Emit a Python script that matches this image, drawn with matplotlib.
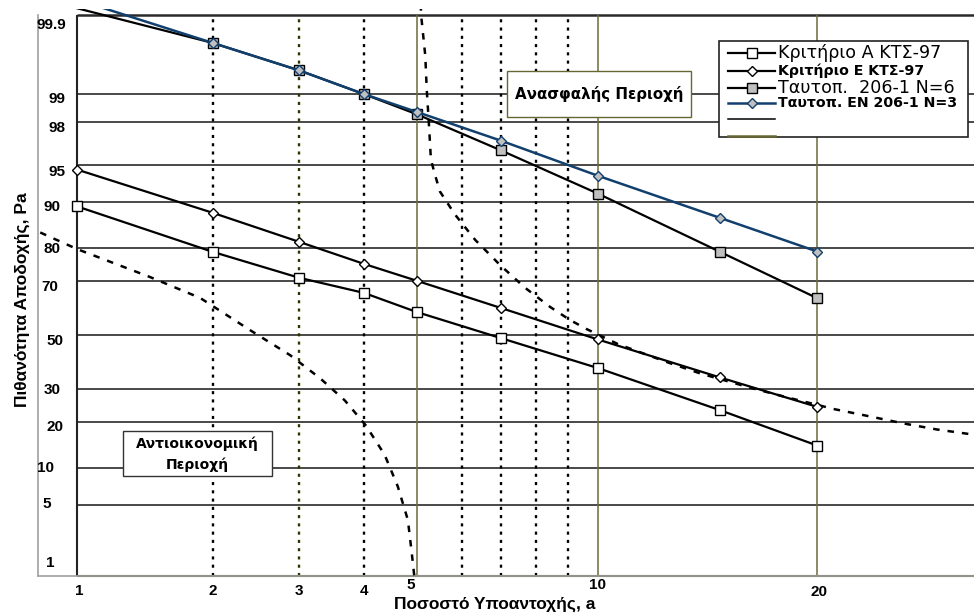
import math
import numpy as np
import matplotlib
matplotlib.use("Agg")
import matplotlib.pyplot as plt
from matplotlib.patches import Rectangle
from matplotlib.lines import Line2D
import matplotlib.transforms as mtransforms

# ---------------- data ----------------
x_pts = [1, 2, 3, 4, 5, 7, 10, 15, 20]
crit_A = [89.3, 78.9, 71.0, 65.8, 58.8, 48.8, 37.5, 23.4, 14.3]
crit_E = [94.5, 88.1, 81.6, 75.4, 70.0, 60.3, 48.3, 34.1, 24.4]
ident_N6 = [99.92, 99.76, 99.47, 99.0, 98.35, 96.27, 91.4, 78.9, 63.9]
ident_N3 = [99.94, 99.76, 99.47, 99.0, 98.44, 96.97, 93.8, 87.1, 79.0]

curve1_a = [0.82, 1.0, 1.13, 1.46, 1.88, 2.39, 2.88, 3.30, 3.68, 4.03, 4.37, 4.62, 4.82, 4.90, 4.95]
curve1_p = [83.9, 79.7, 77.2, 71.3, 64.0, 51.9, 42.3, 33.8, 26.4, 19.2, 12.4, 7.2, 3.7, 1.73, 1.0]

curve2_a = [5.08, 5.10, 5.18, 5.21, 5.26, 5.30, 5.39, 5.50, 5.84, 6.33, 6.97, 7.67, 8.42,
            9.05, 9.61, 10.73, 12.65, 14.07, 16.54, 18.33, 20.99, 23.09, 25.15, 27.37, 29.9]
curve2_p = [99.93, 99.886, 99.647, 99.12, 97.81, 95.5, 93.9, 91.7, 87.8, 82.1, 75.1, 67.6, 60.7,
            55.8, 52.3, 46.5, 39.7, 35.6, 30.4, 27.4, 23.7, 21.6, 19.7, 18.1, 16.8]

hgrid_vals = [5, 10, 20, 30, 50, 70, 80, 90, 95, 98, 99]
dotted_x = [2, 3, 4, 6, 7, 8, 9]
solid_x = [5, 10, 20]

ytick_labels = ["99.9", "99", "98", "95", "90", "80", "70", "50", "30", "20", "10", "5", "1"]
ytick_vals = [99.9, 99, 98, 95, 90, 80, 70, 50, 30, 20, 10, 5, 1]
xtick_labels = ["1", "2", "3", "4", "5", "10", "20"]
xtick_vals = [1, 2, 3, 4, 5, 10, 20]

legend_labels = ["Κριτήριο Α ΚΤΣ-97", "Κριτήριο Ε ΚΤΣ-97", "Ταυτοπ.  206-1 N=6", "Ταυτοπ. EN 206-1 N=3", "", ""]

x_title = "Ποσοστό Υποαντοχής, a"
y_title = "Πιθανότητα Αποδοχής, Pa"
box1_text = "Ανασφαλής Περιοχή"
box2_text = "Αντιοικονομική\nΠεριοχή"

# ---------------- layout / style ----------------
W, H = 974, 615
def fx(px):
    return px / W
def fy(py):
    return 1 - py / H

ylab_x = [51, 57, 57, 57, 52, 52, 50, 55, 52, 55, 46, 47, 50]
ylab_dy = [10, 5, 6, 7, 5, 1, 6, 6, 1, 5, 0, -1, -13]
xlab_dx = [2, 0, 0, 0, -6, 0, 2]
xlab_dy = [15, 15, 15, 15, 9, 9, 16]

BLUE = "#12406e"
OLIVE = "#6b6b3c"
GRAYFILL = "#c0c0c0"

# ---------------- probability scale functions ----------------
_a = [-3.969683028665376e+01, 2.209460984245205e+02, -2.759285104469687e+02,
      1.383577518672690e+02, -3.066479806614716e+01, 2.506628277459239e+00]
_b = [-5.447609879822406e+01, 1.615858368580409e+02, -1.556989798598866e+02,
      6.680131188771972e+01, -1.328068155288572e+01]
_c = [-7.784894002430293e-03, -3.223964580411365e-01, -2.400758277161838e+00,
      -2.549671348133744e+00, 4.374664141464968e+00, 2.938163982698783e+00]
_d = [7.784695709041462e-03, 3.224671290700398e-01, 2.445134137142996e+00,
      3.754408661907416e+00]

def probit_pct(v):
    p = np.clip(np.asarray(v, dtype=float) / 100.0, 1e-12, 1 - 1e-12)
    plow = 0.02425
    with np.errstate(all="ignore"):
        q = np.sqrt(-2 * np.log(p))
        lo = (((((_c[0]*q+_c[1])*q+_c[2])*q+_c[3])*q+_c[4])*q+_c[5]) / \
             ((((_d[0]*q+_d[1])*q+_d[2])*q+_d[3])*q+1)
        qh = np.sqrt(-2 * np.log(1 - p))
        hi = -(((((_c[0]*qh+_c[1])*qh+_c[2])*qh+_c[3])*qh+_c[4])*qh+_c[5]) / \
             ((((_d[0]*qh+_d[1])*qh+_d[2])*qh+_d[3])*qh+1)
        qm = p - 0.5
        r = qm * qm
        mid = (((((_a[0]*r+_a[1])*r+_a[2])*r+_a[3])*r+_a[4])*r+_a[5])*qm / \
              (((((_b[0]*r+_b[1])*r+_b[2])*r+_b[3])*r+_b[4])*r+1)
    return np.where(p < plow, lo, np.where(p > 1 - plow, hi, mid))

_erf = np.vectorize(math.erf, otypes=[float])
def cdf_pct(z):
    z = np.asarray(z, dtype=float)
    return 50.0 * (1.0 + _erf(z / math.sqrt(2.0)))

# ---------------- figure ----------------
fig = plt.figure(figsize=(9.74, 6.15), dpi=100)
ax = fig.add_axes([fx(38), fy(576), fx(974) - fx(38), fy(15) - fy(576)])
ax.set_xscale("function", functions=(probit_pct, cdf_pct))
ax.set_yscale("function", functions=(probit_pct, cdf_pct))
ax.set_xlim(0.81, 29.9)
ax.set_ylim(1, 99.9)
ax.set_xticks([])
ax.set_yticks([])
ax.set_xticks([], minor=True)
ax.set_yticks([], minor=True)
for s in ["top", "right"]:
    ax.spines[s].set_visible(False)
ax.spines["left"].set_color("#a0a0a0")
ax.spines["bottom"].set_color("#a0a0a0")
ax.spines["left"].set_linewidth(1.2)
ax.spines["bottom"].set_linewidth(1.2)

xmax = ax.get_xlim()[1]
x0 = x_pts[0]
ymin, ymax = ax.get_ylim()

# grid
ax.hlines(hgrid_vals, x0, xmax, color="#2a2a2a", lw=1.2, zorder=1)
ax.hlines([ymax], x0, xmax, color="#2a2a2a", lw=1.8, zorder=1, clip_on=False)
dot_cols = ["k", "#333300", "k", "k", "k", "k", "k"]
for xv, c in zip(dotted_x, dot_cols):
    ax.vlines(xv, ymin, ymax, color=c, lw=1.7, linestyles=(0, (1.3, 2.2)), zorder=1)
ax.vlines(solid_x, ymin, ymax, color=OLIVE, lw=1.1, zorder=1)
ax.vlines(x0, ymin, ymax, color="#222222", lw=1.5, zorder=2)
ax.hlines(ymin, x0, xmax, color="#4d4d26", lw=1.5, zorder=2, clip_on=False)

clip_rect = Rectangle((0, 0), 1, 1 + 6 / 561, transform=ax.transAxes)

# dashed curves
for ca, cp in [(curve1_a, curve1_p), (curve2_a, curve2_p)]:
    ln, = ax.plot(ca, cp, color="k", lw=1.8, ls=(0, (2.6, 3.2)), zorder=3)
    ln.set_clip_path(clip_rect)

# series
n = len(x_pts)
ax.plot(x_pts, crit_A, color="k", lw=1.6, marker="s", ms=7, mfc="white", mec="k", mew=1, zorder=4)
ax.plot(x_pts, crit_E, color="k", lw=1.6, marker="D", ms=5.2, mfc="white", mec="k", mew=1, zorder=4)
l6, = ax.plot(x_pts, ident_N6, color="k", lw=1.6, marker="s", ms=7.5, mfc=GRAYFILL, mec="k", mew=1,
              markevery=list(range(1, n)), zorder=5)
l3, = ax.plot(x_pts, ident_N3, color=BLUE, lw=1.8, marker="D", ms=5.4, mfc=GRAYFILL, mec=BLUE, mew=1,
              markevery=list(range(1, n)), zorder=6)
l6.set_clip_path(clip_rect)
l3.set_clip_path(clip_rect)

# y tick labels
for lab, v, xp, dy in zip(ytick_labels, ytick_vals, ylab_x, ylab_dy):
    tr = mtransforms.blended_transform_factory(fig.transFigure, ax.transData)
    tr = mtransforms.offset_copy(tr, fig=fig, x=0, y=-dy, units="dots")
    ax.text(fx(xp), v, lab, transform=tr, ha="center", va="center", fontsize=11,
            fontweight="bold", family="Liberation Sans", clip_on=False)

# x tick labels
for lab, v, dx, dy in zip(xtick_labels, xtick_vals, xlab_dx, xlab_dy):
    tr = mtransforms.blended_transform_factory(ax.transData, ax.transAxes)
    tr = mtransforms.offset_copy(tr, fig=fig, x=dx, y=-dy, units="dots")
    ax.text(v, 0, lab, transform=tr, ha="center", va="center", fontsize=11,
            fontweight="bold", family="Liberation Sans", clip_on=False)

# axis titles
fig.text(fx(495), fy(604), x_title, ha="center", va="center", fontsize=12.5,
         fontweight="bold", family="Liberation Sans")
fig.text(fx(22), fy(300), y_title, ha="center", va="center", rotation=90, fontsize=12.5,
         fontweight="bold", family="Liberation Sans")

# region boxes
fig.add_artist(Rectangle((fx(507), fy(117)), fx(691) - fx(507), fy(71) - fy(117),
                         transform=fig.transFigure, facecolor="white", edgecolor="#666633",
                         lw=1.0, zorder=7))
fig.text(fx(599), fy(94), box1_text, ha="center", va="center", fontsize=10.8,
         fontweight="bold", family="DejaVu Sans", zorder=8)
fig.add_artist(Rectangle((fx(123), fy(476)), fx(272) - fx(123), fy(431) - fy(476),
                         transform=fig.transFigure, facecolor="white", edgecolor="#333333",
                         lw=1.0, zorder=7))
fig.text(fx(197), fy(454), box2_text, ha="center", va="center", fontsize=10,
         fontweight="bold", family="DejaVu Sans", linespacing=1.55, zorder=8)

# legend (drawn manually)
fig.add_artist(Rectangle((fx(719), fy(137)), fx(968) - fx(719), fy(41) - fy(137),
                         transform=fig.transFigure, facecolor="white", edgecolor="#222222",
                         lw=1.2, zorder=9))
leg_rows = [53, 71, 88, 103, 119, 136]
leg_styles = [
    dict(color="k", lw=1.6, marker="s", ms=7, mfc="white", mec="k"),
    dict(color="k", lw=1.6, marker="D", ms=5.2, mfc="white", mec="k"),
    dict(color="k", lw=1.6, marker="s", ms=7.5, mfc=GRAYFILL, mec="k"),
    dict(color=BLUE, lw=1.8, marker="D", ms=5.4, mfc=GRAYFILL, mec=BLUE),
    dict(color="k", lw=1.1, marker=None),
    dict(color="#666633", lw=1.8, marker=None),
]
leg_fonts = [
    dict(fontsize=12.6, fontweight="normal"),
    dict(fontsize=10.2, fontweight="bold"),
    dict(fontsize=12.6, fontweight="normal"),
    dict(fontsize=10.2, fontweight="bold"),
    dict(fontsize=9), dict(fontsize=9),
]
for row, st, fnt, lab in zip(leg_rows, leg_styles, leg_fonts, legend_labels):
    st = dict(st)
    mk = st.pop("marker")
    ms = st.pop("ms", None); mfc = st.pop("mfc", None); mec = st.pop("mec", None)
    fig.add_artist(Line2D([fx(728), fx(775)], [fy(row), fy(row)], transform=fig.transFigure,
                          zorder=10, **st))
    if mk:
        fig.add_artist(Line2D([fx(752)], [fy(row)], transform=fig.transFigure, marker=mk,
                              ms=ms, mfc=mfc, mec=mec, mew=1, ls="none", zorder=11))
    if lab:
        fig.text(fx(778), fy(row), lab, ha="left", va="center", family="DejaVu Sans",
                 zorder=11, **fnt)

fig.savefig("out.png", dpi=100)
